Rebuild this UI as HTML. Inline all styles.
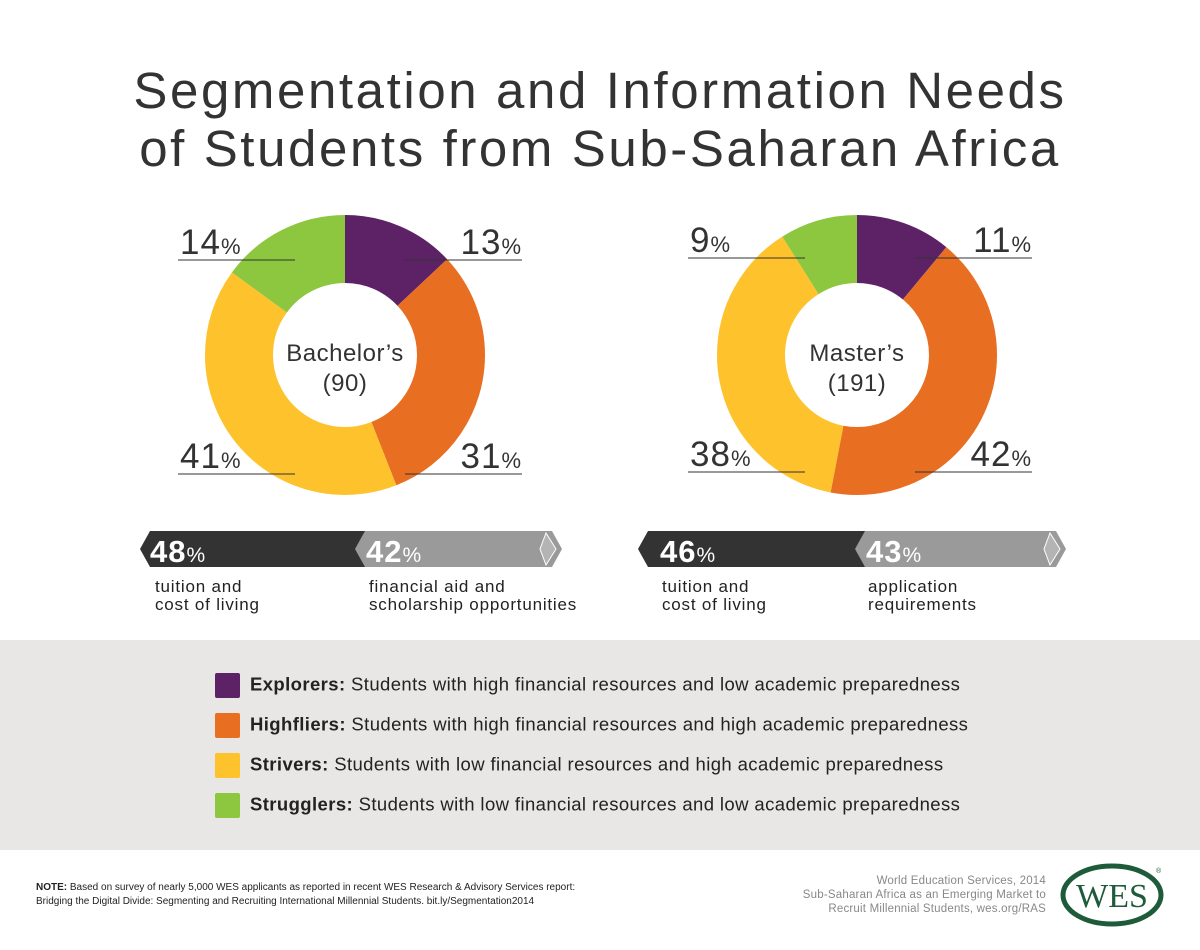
<!DOCTYPE html>
<html><head><meta charset="utf-8"><style>
body{margin:0;width:1200px;height:950px;background:#fff;font-family:"Liberation Sans",sans-serif;color:#333;position:relative;overflow:hidden}
.t{position:absolute;left:0;width:1200px;text-align:center;font-size:51px;line-height:58px;top:62px;color:#333;letter-spacing:2.6px}
.band{position:absolute;left:0;top:640px;width:1200px;height:210px;background:#e8e7e5}
.lg{position:absolute;left:215px;font-size:18.5px;color:#222;letter-spacing:0.4px}
.lg i{display:inline-block;width:25px;height:25px;vertical-align:middle;margin-right:10px;border-radius:2px}
.note{position:absolute;left:36px;top:881px;font-size:10px;line-height:14px;color:#222}
.src{position:absolute;right:154px;top:874px;font-size:11.5px;line-height:14px;color:#888;text-align:right;letter-spacing:0.2px}
</style></head><body>
<div class="t">Segmentation and Information Needs<br>of Students from Sub-Saharan Africa</div>
<svg width="1200" height="640" style="position:absolute;left:0;top:0" font-family="Liberation Sans, sans-serif">
<g transform="rotate(-90 345 355)" fill="none" stroke-width="68">
<circle cx="345" cy="355" r="106" stroke="#5c2265" stroke-dasharray="86.6 666"/>
<circle cx="345" cy="355" r="106" stroke="#e86e22" stroke-dasharray="0 86.6 206.5 666"/>
<circle cx="345" cy="355" r="106" stroke="#fec22c" stroke-dasharray="0 293.1 273.1 666"/>
<circle cx="345" cy="355" r="106" stroke="#8dc63f" stroke-dasharray="0 566.2 99.8 666"/>
</g>
<g transform="rotate(-90 857 355)" fill="none" stroke-width="68">
<circle cx="857" cy="355" r="106" stroke="#5c2265" stroke-dasharray="73.3 666"/>
<circle cx="857" cy="355" r="106" stroke="#e86e22" stroke-dasharray="0 73.3 279.7 666"/>
<circle cx="857" cy="355" r="106" stroke="#fec22c" stroke-dasharray="0 353 253.1 666"/>
<circle cx="857" cy="355" r="106" stroke="#8dc63f" stroke-dasharray="0 606.1 59.9 666"/>
</g>
<g stroke="#333" stroke-width="1">
<line x1="178" y1="260" x2="295" y2="260"/><line x1="405" y1="260" x2="522" y2="260"/>
<line x1="178" y1="474" x2="295" y2="474"/><line x1="405" y1="474" x2="522" y2="474"/>
<line x1="688" y1="258" x2="805" y2="258"/><line x1="915" y1="258" x2="1032" y2="258"/>
<line x1="688" y1="472" x2="805" y2="472"/><line x1="915" y1="472" x2="1032" y2="472"/>
</g>
<g fill="#333" font-size="35" letter-spacing="1">
<text x="180" y="254">14<tspan font-size="22">%</tspan></text>
<text x="522" y="254" text-anchor="end">13<tspan font-size="22">%</tspan></text>
<text x="180" y="468">41<tspan font-size="22">%</tspan></text>
<text x="522" y="468" text-anchor="end">31<tspan font-size="22">%</tspan></text>
<text x="690" y="252">9<tspan font-size="22">%</tspan></text>
<text x="1032" y="252" text-anchor="end">11<tspan font-size="22">%</tspan></text>
<text x="690" y="466">38<tspan font-size="22">%</tspan></text>
<text x="1032" y="466" text-anchor="end">42<tspan font-size="22">%</tspan></text>
</g>
<g fill="#333" font-size="24" text-anchor="middle" letter-spacing="0.5">
<text x="345" y="361">Bachelor’s</text><text x="345" y="391">(90)</text>
<text x="857" y="361">Master’s</text><text x="857" y="391">(191)</text>
</g>
<polygon points="352,531 552,531 562,549 552,567 352,567" fill="#9a9a9a"/>
<polygon points="546,533 556,549 546,565 540,549" fill="#b4b4b4" stroke="#fff" stroke-width="1"/>
<polygon points="150,531 365,531 355,549 365,567 150,567 140,549" fill="#333"/>
<polygon points="852,531 1056,531 1066,549 1056,567 852,567" fill="#9a9a9a"/>
<polygon points="1050,533 1060,549 1050,565 1044,549" fill="#b4b4b4" stroke="#fff" stroke-width="1"/>
<polygon points="648,531 865,531 855,549 865,567 648,567 638,549" fill="#333"/>
<g fill="#fff" font-size="31" font-weight="bold" letter-spacing="1">
<text x="150" y="562">48<tspan font-size="21" font-weight="normal">%</tspan></text>
<text x="366" y="562">42<tspan font-size="21" font-weight="normal">%</tspan></text>
<text x="660" y="562">46<tspan font-size="21" font-weight="normal">%</tspan></text>
<text x="866" y="562">43<tspan font-size="21" font-weight="normal">%</tspan></text>
</g>
<g fill="#222" font-size="17" letter-spacing="0.8">
<text x="155" y="592">tuition and</text><text x="155" y="610">cost of living</text>
<text x="369" y="592">financial aid and</text><text x="369" y="610">scholarship opportunities</text>
<text x="662" y="592">tuition and</text><text x="662" y="610">cost of living</text>
<text x="868" y="592">application</text><text x="868" y="610">requirements</text>
</g>
</svg>
<div class="band"></div>
<div class="lg" style="top:673px"><i style="background:#5c2265"></i><b>Explorers:</b> Students with high financial resources and low academic preparedness</div>
<div class="lg" style="top:713px"><i style="background:#e86e22"></i><b>Highfliers:</b> Students with high financial resources and high academic preparedness</div>
<div class="lg" style="top:753px"><i style="background:#fec22c"></i><b>Strivers:</b> Students with low financial resources and high academic preparedness</div>
<div class="lg" style="top:793px"><i style="background:#8dc63f"></i><b>Strugglers:</b> Students with low financial resources and low academic preparedness</div>
<div class="note"><b>NOTE:</b> Based on survey of nearly 5,000 WES applicants as reported in recent WES Research &amp; Advisory Services report:<br>Bridging the Digital Divide: Segmenting and Recruiting International Millennial Students. bit.ly/Segmentation2014</div>
<div class="src">World Education Services, 2014<br>Sub-Saharan Africa as an Emerging Market to<br>Recruit Millennial Students, wes.org/RAS</div>
<svg width="120" height="70" style="position:absolute;left:1060px;top:862px">
<ellipse cx="52" cy="33" rx="49" ry="29" fill="none" stroke="#1d5b3a" stroke-width="5"/>
<text x="52" y="45" text-anchor="middle" font-family="Liberation Serif,serif" font-size="34" fill="#1d5b3a">WES</text>
<text x="96" y="11" font-size="7" fill="#1d5b3a">®</text>
</svg>
</body></html>
